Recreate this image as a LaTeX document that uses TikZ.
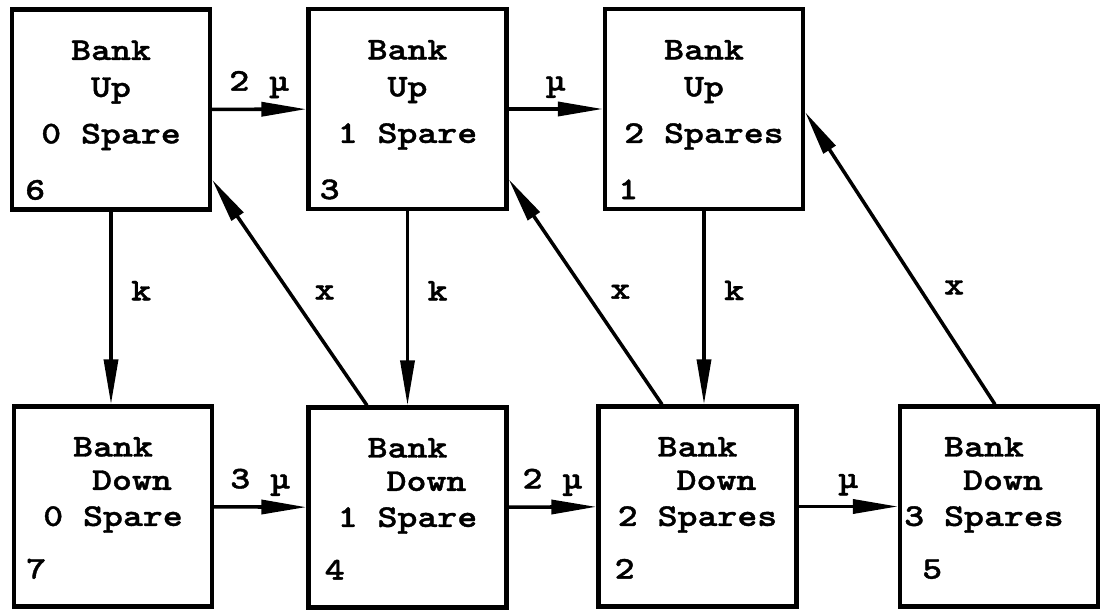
\documentclass[tikz,border=0pt]{standalone}
\usepackage{fontspec}
\newfontfamily\typewr[Extension=.otf, FakeStretch=1.2, FakeBold=1.2]{lmmonolt10-bold}
\usetikzlibrary{arrows.meta,positioning}

\tikzset{
  state/.style={draw, line width=2.4pt, minimum width=3.96cm, minimum height=4cm, inner sep=0pt},
  txt/.style={align=center, anchor=base, inner sep=0pt, font=\typewr\fontsize{18}{19}\selectfont},
  num/.style={anchor=base west, inner sep=0pt, font=\typewr\fontsize{18}{19}\selectfont},
  rate/.style={font=\typewr\fontsize{18}{19}\selectfont},
  trans/.style={line width=2pt, -{Triangle[length=0.9cm,width=0.28cm]}},
}

\begin{document}
\begin{tikzpicture}
\useasboundingbox (0,0) rectangle (22.04,12.2);
% bank up
\node[state] (s6) at (2.22,10.01) {};
\node[state] (s3) at (8.15,10.02) {};
\node[state] (s1) at (14.08,10.02) {};
% bank down
\node[state] (s7) at (2.26,2.07) {};
\node[state] (s4) at (8.15,2.05) {};
\node[state] (s2) at (13.95,2.07) {};
\node[state] (s5) at (19.98,2.07) {};

% state texts (anchored on the last line)
\node[txt] (t6) at ([yshift=-2.72cm]s6.north) {Bank\\[2pt]Up\hspace*{0.8em}\\[7.5pt]0 Spare};
\node[txt] (t3) at ([yshift=-2.72cm]s3.north) {Bank\\[2pt]Up\hspace*{0.8em}\\[7.5pt]1 Spare};
\node[txt] (t1) at ([yshift=-2.72cm]s1.north) {Bank\\[2pt]Up\\[7.5pt]2 Spares};
\node[txt] (t7) at ([yshift=-2.43cm]s7.north) {Bank\\\hspace*{1.2em}Down\\[1.5pt]0 Spare};
\node[txt] (t4) at ([yshift=-2.43cm]s4.north) {Bank\\\hspace*{1.2em}Down\\[1.5pt]1 Spare};
\node[txt] (t2) at ([yshift=-2.43cm]s2.north) {Bank\\\hspace*{1.2em}Down\\[1.5pt]2 Spares};
\node[txt] (t5) at ([xshift=-0.3cm,yshift=-2.43cm]s5.north) {Bank\\\hspace*{1.2em}Down\\[1.5pt]3 Spares};

% state numbers
\node[num] (n6) at ([xshift=0.3cm,yshift=0.24cm]s6.south west) {6};
\node[num] (n3) at ([xshift=0.26cm,yshift=0.24cm]s3.south west) {3};
\node[num] (n1) at ([xshift=0.3cm,yshift=0.24cm]s1.south west) {1};
\node[num] (n7) at ([xshift=0.28cm,yshift=0.6cm]s7.south west) {7};
\node[num] (n4) at ([xshift=0.36cm,yshift=0.6cm]s4.south west) {4};
\node[num] (n2) at ([xshift=0.36cm,yshift=0.6cm]s2.south west) {2};
\node[num] (n5) at ([xshift=0.48cm,yshift=0.6cm]s5.south west) {5};

% repairs
\draw[trans] (s6) -- node[rate, above=2pt] (m63) {2 µ} (s3);
\draw[trans] (s3) -- node[rate, above=2pt] (m31) {µ} (s1);
\draw[trans] (s7) -- node[rate, above=2pt] (m74) {3 µ} (s4);
\draw[trans] (s4) -- node[rate, above=2pt] (m42) {2 µ} (s2);
\draw[trans] (s2) -- node[rate, above=2pt] (m25) {µ} (s5);

% bank failures
\draw[trans] (s6.south) -- node[rate, pos=0.41, right=0.25cm] (k67) {k} (s6.south |- s7.north);
\draw[trans] (s3.south) -- node[rate, pos=0.41, right=0.25cm] (k34) {k} (s3.south |- s4.north);
\draw[trans] (s1.south) -- node[rate, pos=0.41, right=0.25cm] (k12) {k} (s1.south |- s2.north);

% bank restored
\draw[trans] ([xshift=-0.81cm]s4.north) -- node[rate, pos=0.5, right=0.35cm] (x46) {x} ([yshift=0.64cm]s6.south east);
\draw[trans] ([xshift=-0.71cm]s2.north) -- node[rate, pos=0.5, right=0.35cm] (x23) {x} ([yshift=0.64cm]s3.south east);
\draw[trans] ([xshift=-0.08cm]s5.north) -- node[rate, pos=0.4, right=0.35cm] (x51) {x} ([yshift=-0.06cm]s1.east);
\end{tikzpicture}
\end{document}
